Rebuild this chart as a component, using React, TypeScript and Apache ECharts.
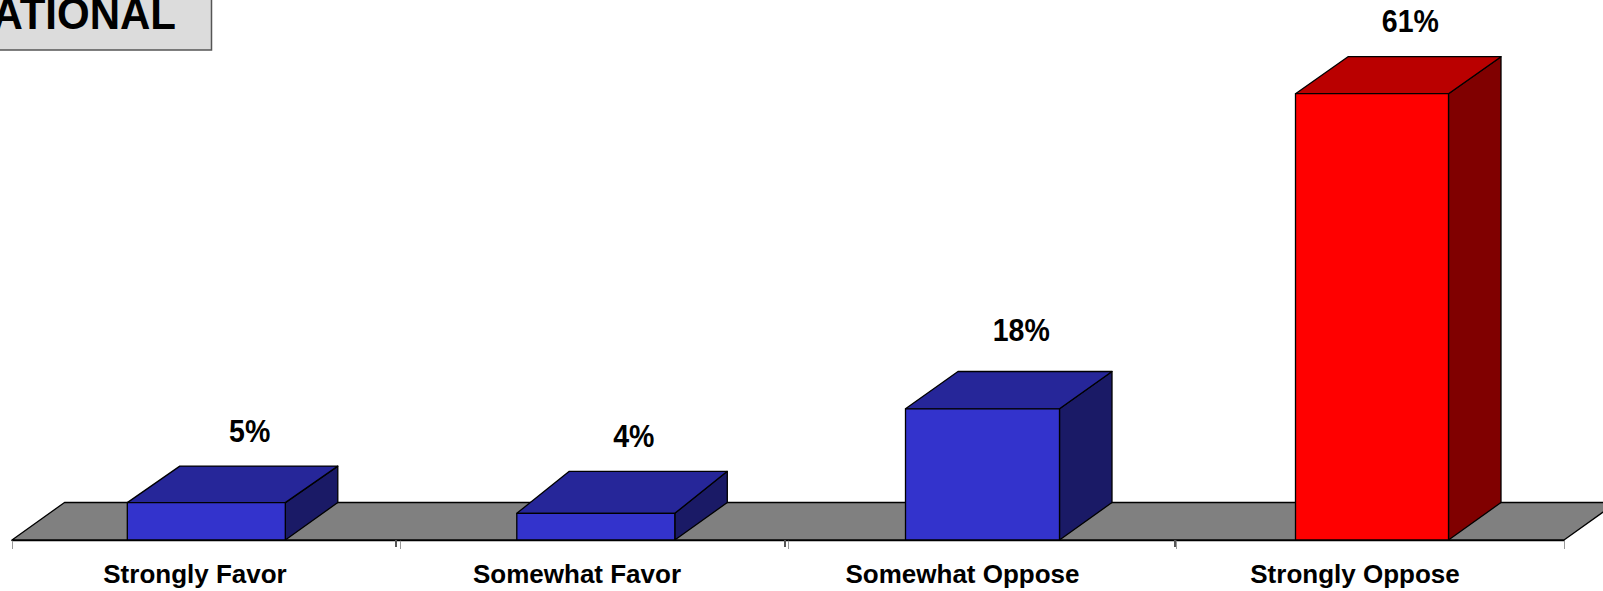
import React, { useEffect, useRef } from "react";
import * as echarts from "echarts";

const categories = ["Strongly Favor", "Somewhat Favor", "Somewhat Oppose", "Strongly Oppose"];
const values = [5.1, 3.64, 17.9, 60.9];
const valueLabels = ["5%", "4%", "18%", "61%"];
const faceColors = [
  ["#3333CC", "#262699", "#1A1A66"],
  ["#3333CC", "#262699", "#1A1A66"],
  ["#3333CC", "#262699", "#1A1A66"],
  ["#FF0000", "#BA0000", "#800000"],
];

const FONT = '"Liberation Sans", Arial, sans-serif';
const DEPTH_X = 52.5;
const DEPTH_Y = 37.5;
const barCenterOffsets = [0.3, 1.8, 0.5, 2];
const barWidths = [158, 158, 154, 153];
const topDepths = [36.5, 42, 37.3, 37];
const labelOffsetsX = [43.4, 38, 38.7, 38.3];
const labelOffsetsY = [71.6, 77.4, 78.4, 72.6];
const axisLabelShifts = [22, 34, 39, 30];
const darkTickXs = [396, 785, 1175];

export default function App() {
  const ref = useRef<HTMLDivElement>(null);
  useEffect(() => {
    const chart = echarts.init(ref.current!, undefined, { renderer: "svg" });
    const line = { stroke: "#000", lineWidth: 1.3, lineJoin: "round" };
    chart.setOption({
      animation: false,
      backgroundColor: "#fff",
      grid: { left: 12, top: 27, width: 1552, height: 513 },
      xAxis: {
        type: "category",
        data: categories.map((c, i) => ({
          value: c,
          textStyle: { padding: [0, axisLabelShifts[i], 0, 0] },
        })),
        axisLine: { lineStyle: { color: "#000", width: 1.3 } },
        axisTick: { show: true, alignWithLabel: false, length: 9, lineStyle: { color: "#999", width: 1 } },
        axisLabel: {
          interval: 0,
          margin: 21,
          fontFamily: FONT,
          fontWeight: "bold",
          fontSize: 26,
          color: "#000",
        },
      },
      yAxis: { type: "value", min: 0, max: 70, show: false, splitLine: { show: false } },
      graphic: [
        {
          type: "rect",
          shape: { x: -10, y: -10, width: 221.5, height: 60 },
          style: { fill: "#DCDCDC", stroke: "#555", lineWidth: 1.5 },
          z: 10,
        },
        {
          type: "text",
          x: 176,
          y: 36,
          scaleX: 0.955,
          style: {
            text: "NATIONAL",
            align: "right",
            verticalAlign: "bottom",
            font: `bold 44px ${FONT}`,
            fill: "#000",
          },
          z: 11,
        },
        ...darkTickXs.map((x) => ({
          type: "line",
          shape: { x1: x, y1: 540, x2: x, y2: 547 },
          style: { stroke: "#555", lineWidth: 2 },
          z: 5,
        })),
      ],
      series: [
        {
          type: "custom",
          silent: true,
          z: 1,
          data: [[0, 0]],
          encode: { x: 0, y: 1 },
          renderItem: (params: any) => {
            const g = params.coordSys;
            const front = g.y + g.height;
            return {
              type: "polygon",
              shape: {
                points: [
                  [g.x, front],
                  [g.x + DEPTH_X, front - DEPTH_Y],
                  [g.x + g.width + DEPTH_X, front - DEPTH_Y],
                  [g.x + g.width, front],
                ],
              },
              style: { fill: "#808080", ...line },
            };
          },
        },
        {
          type: "custom",
          silent: true,
          z: 3,
          data: values.map((v, i) => [i, v]),
          encode: { x: 0, y: 1 },
          renderItem: (params: any, api: any) => {
            const i = params.dataIndex;
            const top = api.coord([api.value(0), api.value(1)]);
            const base = api.coord([api.value(0), 0]);
            const cx = top[0] + barCenterOffsets[i];
            const w = barWidths[i];
            const l = cx - w / 2;
            const r = cx + w / 2;
            const [frontFill, topFill, sideFill] = faceColors[i];
            const backTop = top[1] - topDepths[i];
            return {
              type: "group",
              children: [
                {
                  type: "polygon",
                  shape: {
                    points: [
                      [r, base[1]],
                      [r + DEPTH_X, base[1] - DEPTH_Y],
                      [r + DEPTH_X, backTop],
                      [r, top[1]],
                    ],
                  },
                  style: { fill: sideFill, ...line },
                },
                {
                  type: "polygon",
                  shape: {
                    points: [
                      [l, top[1]],
                      [l + DEPTH_X, backTop],
                      [r + DEPTH_X, backTop],
                      [r, top[1]],
                    ],
                  },
                  style: { fill: topFill, ...line },
                },
                {
                  type: "rect",
                  shape: { x: l, y: top[1], width: w, height: base[1] - top[1] },
                  style: { fill: frontFill, ...line },
                },
                {
                  type: "text",
                  x: cx + labelOffsetsX[i],
                  y: top[1] - labelOffsetsY[i],
                  scaleX: 0.92,
                  style: {
                    text: valueLabels[i],
                    align: "center",
                    verticalAlign: "middle",
                    font: `bold 31px ${FONT}`,
                    fill: "#000",
                  },
                },
              ],
            };
          },
        },
      ],
    });
    return () => chart.dispose();
  }, []);
  return (
    <div
      ref={ref}
      style={{ position: "fixed", left: 0, top: 0, width: 1603, height: 591, overflow: "hidden" }}
    />
  );
}
